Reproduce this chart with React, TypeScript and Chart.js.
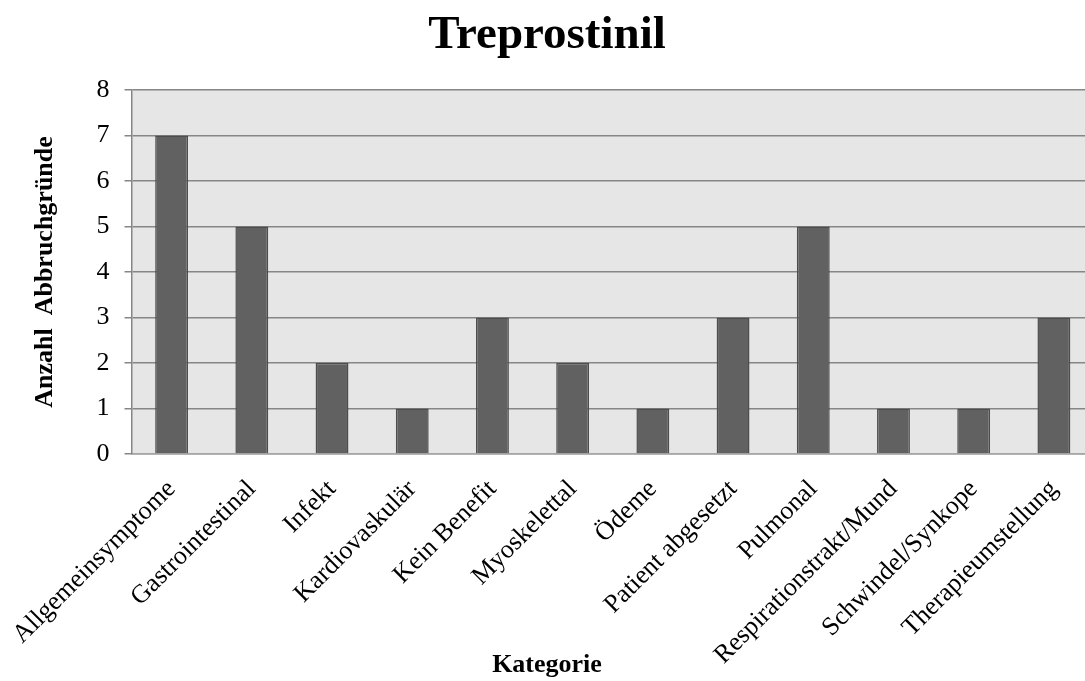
import React, { useEffect, useRef } from "react";
import { Chart, registerables } from "chart.js";

Chart.register(...registerables);

const categories: string[] = [
  "Allgemeinsymptome",
  "Gastrointestinal",
  "Infekt",
  "Kardiovaskulär",
  "Kein Benefit",
  "Myoskelettal",
  "Ödeme",
  "Patient abgesetzt",
  "Pulmonal",
  "Respirationstrakt/Mund",
  "Schwindel/Synkope",
  "Therapieumstellung",
];

const counts: number[] = [7, 5, 2, 1, 3, 2, 1, 3, 5, 1, 1, 3];

const yTicks: number[] = [0, 1, 2, 3, 4, 5, 6, 7, 8];

const chartTitle = "Treprostinil";
const xTitle = "Kategorie";
const yTitle = "Anzahl  Abbruchgründe";

const SERIF = "'Liberation Serif', 'Times New Roman', serif";

const plotBg = {
  id: "plotBg",
  beforeDraw(chart: any) {
    const { ctx, chartArea } = chart;
    if (!chartArea) return;
    ctx.save();
    ctx.fillStyle = "#e6e6e6";
    ctx.fillRect(
      chartArea.left,
      chartArea.top,
      chartArea.right - chartArea.left,
      chartArea.bottom - chartArea.top
    );
    ctx.restore();
  },
};

export default function App() {
  const ref = useRef<HTMLCanvasElement | null>(null);

  useEffect(() => {
    if (!ref.current) return;
    const chart = new Chart(ref.current, {
      type: "bar",
      data: {
        labels: categories,
        datasets: [
          {
            data: counts,
            backgroundColor: "#616161",
            borderColor: "#4d4d4d",
            borderWidth: 1.5,
            barPercentage: 0.41,
            categoryPercentage: 1,
          },
        ],
      },
      options: {
        responsive: false,
        animation: false,
        devicePixelRatio: 1,
        layout: { padding: { left: 0, right: 16, top: 0, bottom: 0 } },
        plugins: {
          legend: { display: false },
          tooltip: { enabled: false },
          title: {
            display: true,
            text: chartTitle,
            color: "#000",
            font: { family: SERIF, size: 47, weight: "bold" },
            padding: { top: 8, bottom: 25.6 },
          },
          subtitle: {
            display: true,
            position: "bottom",
            text: xTitle,
            color: "#000",
            font: { family: SERIF, size: 26, weight: "bold" },
            padding: { top: -30, bottom: 0 },
          },
        },
        scales: {
          x: {
            grid: { display: false },
            border: { display: true, color: "#a6a6a6", width: 1.5 },
            ticks: {
              color: "#000",
              font: { family: SERIF, size: 26 },
              minRotation: 45,
              maxRotation: 45,
              autoSkip: false,
              padding: 12,
            },
            afterFit(axis: any) {
              axis.height = 225.8;
            },
          },
          y: {
            min: 0,
            max: 8,
            afterBuildTicks(axis: any) {
              axis.ticks = yTicks.map((v) => ({ value: v }));
            },
            grid: {
              color: "#868686",
              lineWidth: 1.5,
              tickLength: 7,
            },
            border: { display: true, color: "#868686", width: 1.5 },
            ticks: {
              color: "#000",
              font: { family: SERIF, size: 26 },
              padding: 15,
            },
            title: {
              display: true,
              text: yTitle,
              color: "#000",
              font: { family: SERIF, size: 26, weight: "bold" },
              padding: { top: 28, bottom: 0 },
            },
            afterFit(axis: any) {
              axis.width = 130;
            },
          },
        },
      },
      plugins: [plotBg],
    });
    return () => chart.destroy();
  }, []);

  return (
    <div
      style={{
        position: "fixed",
        left: 0,
        top: 0,
        width: 1085,
        height: 681,
        overflow: "hidden",
        background: "#fff",
      }}
    >
      <canvas ref={ref} width={1110} height={681} style={{ display: "block" }} />
    </div>
  );
}
